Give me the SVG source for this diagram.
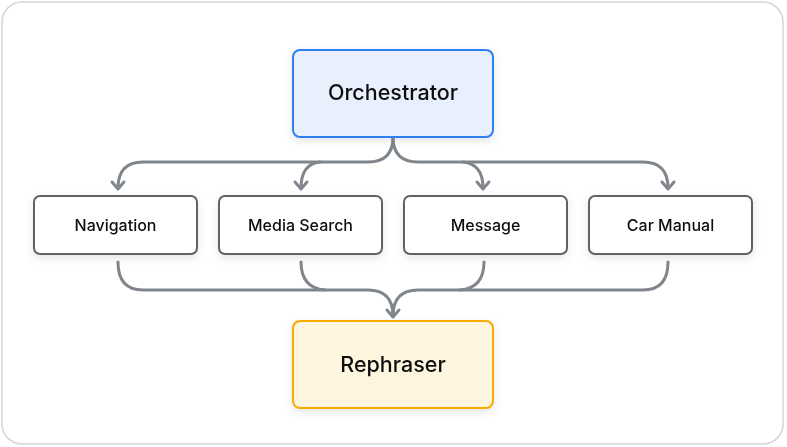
<svg xmlns="http://www.w3.org/2000/svg" width="787" height="447" viewBox="0 0 787 447">
  <defs>
    <style>
      .frame { fill: #ffffff; stroke: #d4d4da; stroke-width: 1.5; }
      .mid rect { fill: #ffffff; stroke: #5f6368; stroke-width: 2; }
      .lbl { font-family: Inter, "Open Sans", "Liberation Sans", sans-serif; fill: #111111; text-anchor: middle; dominant-baseline: central; }
      .small { font-size: 16px; font-weight: 500; }
      .big { font-size: 21.5px; font-weight: 500; }
      .conn path { fill: none; stroke: #80868b; stroke-width: 3; stroke-linecap: round; stroke-linejoin: round; }
    </style>
    <filter id="sh" x="-20%" y="-20%" width="140%" height="160%">
      <feDropShadow dx="0" dy="3" stdDeviation="4" flood-color="#000000" flood-opacity="0.10"/>
    </filter>
  </defs>

  <rect class="frame" x="2" y="2" width="781" height="442" rx="20"/>

  <g id="connectors" class="conn">
    <path d="M393,137 Q393,162 368,162 H143 Q118,162 118,188"/>
    <path d="M320,162 Q301,164 301,188"/>
    <path d="M393,137 Q393,162 418,162 H643 Q668,162 668,188"/>
    <path d="M463,162 Q483,164 483,188"/>
    <path d="M118,262 Q118,290 143,290 H368 Q393,290 393,316"/>
    <path d="M301,262 Q301,288 325,290"/>
    <path d="M668,262 Q668,290 643,290 H418 Q393,290 393,316"/>
    <path d="M484,262 Q484,288 460,290"/>
    <path d="M112,182 L118,189 L124,182"/>
    <path d="M295,182 L301,189 L307,182"/>
    <path d="M477,182 L483,189 L489,182"/>
    <path d="M662,182 L668,189 L674,182"/>
    <path d="M387,310 L393,317 L399,310"/>
  </g>

  <g id="orchestrator" filter="url(#sh)">
    <rect x="293" y="50" width="200" height="87" rx="7" fill="#e8f0fe" stroke="#2f7ff0" stroke-width="2"/>
    <text class="lbl big" x="393" y="92">Orchestrator</text>
  </g>

  <g id="navigation" class="mid" filter="url(#sh)">
    <rect x="34" y="196" width="163" height="58" rx="6"/>
    <text class="lbl small" x="115.5" y="225">Navigation</text>
  </g>
  <g id="media-search" class="mid" filter="url(#sh)">
    <rect x="219" y="196" width="163" height="58" rx="6"/>
    <text class="lbl small" x="300.5" y="225">Media Search</text>
  </g>
  <g id="message" class="mid" filter="url(#sh)">
    <rect x="404" y="196" width="163" height="58" rx="6"/>
    <text class="lbl small" x="485.5" y="225">Message</text>
  </g>
  <g id="car-manual" class="mid" filter="url(#sh)">
    <rect x="589" y="196" width="163" height="58" rx="6"/>
    <text class="lbl small" x="670.5" y="225">Car Manual</text>
  </g>

  <g id="rephraser" filter="url(#sh)">
    <rect x="293" y="321" width="200" height="87" rx="7" fill="#fdf5de" stroke="#f9ab00" stroke-width="2"/>
    <text class="lbl big" x="393" y="364">Rephraser</text>
  </g>
</svg>
